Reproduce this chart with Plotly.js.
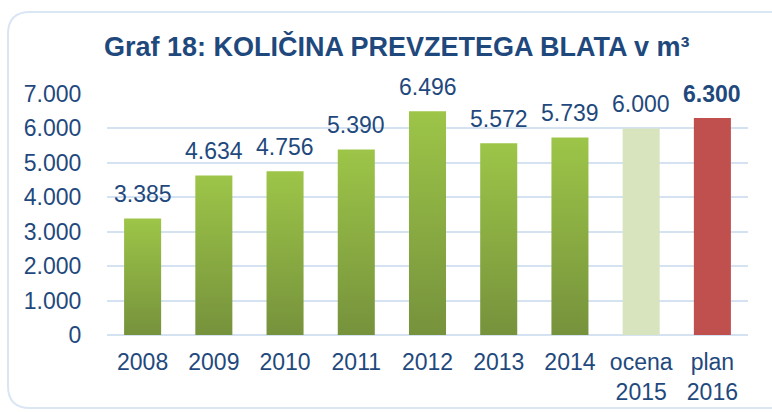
<!DOCTYPE html>
<html><head><meta charset="utf-8">
<script src="https://cdn.plot.ly/plotly-3.0.1.min.js"></script>
<style>html,body{margin:0;padding:0;background:#fff}#c{width:772px;height:412px}</style>
</head><body><div id="c"></div>
<script>
const categories = ["2008","2009","2010","2011","2012","2013","2014","ocena<br>2015","plan<br>2016"];
const values = [3385,4634,4756,5390,6496,5572,5739,6000,6300];
const labels = ["3.385","4.634","4.756","5.390","6.496","5.572","5.739","6.000","6.300"];
const barColors = ["#8aad42","#8aad42","#8aad42","#8aad42","#8aad42","#8aad42","#8aad42","#d7e4bd","#c0504d"];
const yTicks = [0,1000,2000,3000,4000,5000,6000,7000];

const W = 641, H = 241;
const px = v => (v - 107) / W;
const py = v => (335 - v) / H;
const x0 = px(8), x1 = px(800), y0 = py(12), y1 = py(408);
const rx = 22 / W, ry = 22 / H;
const boxPath = `M ${x0+rx},${y0} L ${x1},${y0} L ${x1},${y1} L ${x0+rx},${y1} Q ${x0},${y1} ${x0},${y1+ry} L ${x0},${y0-ry} Q ${x0},${y0} ${x0+rx},${y0} Z`;
const FONT = 'Liberation Sans, Arial, sans-serif';
const COL = '#1f497d';

const annotations = categories.map((c, i) => ({
  x: i, y: values[i], xref: 'x', yref: 'y',
  text: i === 8 ? '<b>' + labels[i] + '</b>' : labels[i],
  showarrow: false, yanchor: 'bottom', yshift: 9,
  font: {family: FONT, size: 23, color: COL}
}));

Plotly.newPlot('c', [{
  type: 'bar', x: categories, y: values,
  marker: {color: barColors, line: {width: 0}},
  hoverinfo: 'none'
}], {
  width: 772, height: 412,
  margin: {l: 107, r: 24, t: 94, b: 77},
  paper_bgcolor: '#fff', plot_bgcolor: 'rgba(0,0,0,0)',
  separators: ',.',
  bargap: 0.48,
  showlegend: false,
  title: {text: '<b>Graf 18: KOLIČINA PREVZETEGA BLATA v m³</b>', x: 0.514, xref: 'container', xanchor: 'center', y: 0.888, yref: 'container', yanchor: 'middle',
    font: {family: FONT, size: 27, color: COL}},
  xaxis: {type: 'category', range: [-0.5, 8.5], autorange: false, showgrid: false, zeroline: false, showline: false,
    ticks: 'outside', ticklen: 6, tickcolor: 'rgba(0,0,0,0)',
    tickfont: {family: FONT, size: 23, color: COL}},
  yaxis: {range: [0, 7000], autorange: false, tickvals: yTicks, tickformat: ',', showgrid: true, gridcolor: '#d5e2f2', gridwidth: 2,
    zeroline: true, zerolinecolor: '#d5e2f2', zerolinewidth: 2, showline: false,
    ticks: 'outside', ticklen: 20, tickcolor: 'rgba(0,0,0,0)',
    tickfont: {family: FONT, size: 23, color: COL}},
  shapes: [{type: 'path', xref: 'paper', yref: 'paper', path: boxPath, line: {color: '#dbe6f4', width: 2}, fillcolor: 'rgba(0,0,0,0)', layer: 'below'}],
  annotations: annotations
}, {staticPlot: true}).then(gd => {
  const svg = gd.querySelector('svg.main-svg');
  const ns = 'http://www.w3.org/2000/svg';
  let defs = svg.querySelector('defs');
  if (!defs) { defs = document.createElementNS(ns, 'defs'); svg.insertBefore(defs, svg.firstChild); }
  const g = document.createElementNS(ns, 'linearGradient');
  g.setAttribute('id', 'greenGrad');
  g.setAttribute('x1', '0'); g.setAttribute('y1', '0'); g.setAttribute('x2', '0'); g.setAttribute('y2', '1');
  [['0', '#9dc548'], ['1', '#76923c']].forEach(([o, c]) => {
    const s = document.createElementNS(ns, 'stop');
    s.setAttribute('offset', o); s.setAttribute('stop-color', c);
    g.appendChild(s);
  });
  defs.appendChild(g);
  gd.querySelectorAll('.bars .point path').forEach((p, i) => {
    if (i < 7) p.style.fill = 'url(#greenGrad)';
  });
});
</script></body></html>
